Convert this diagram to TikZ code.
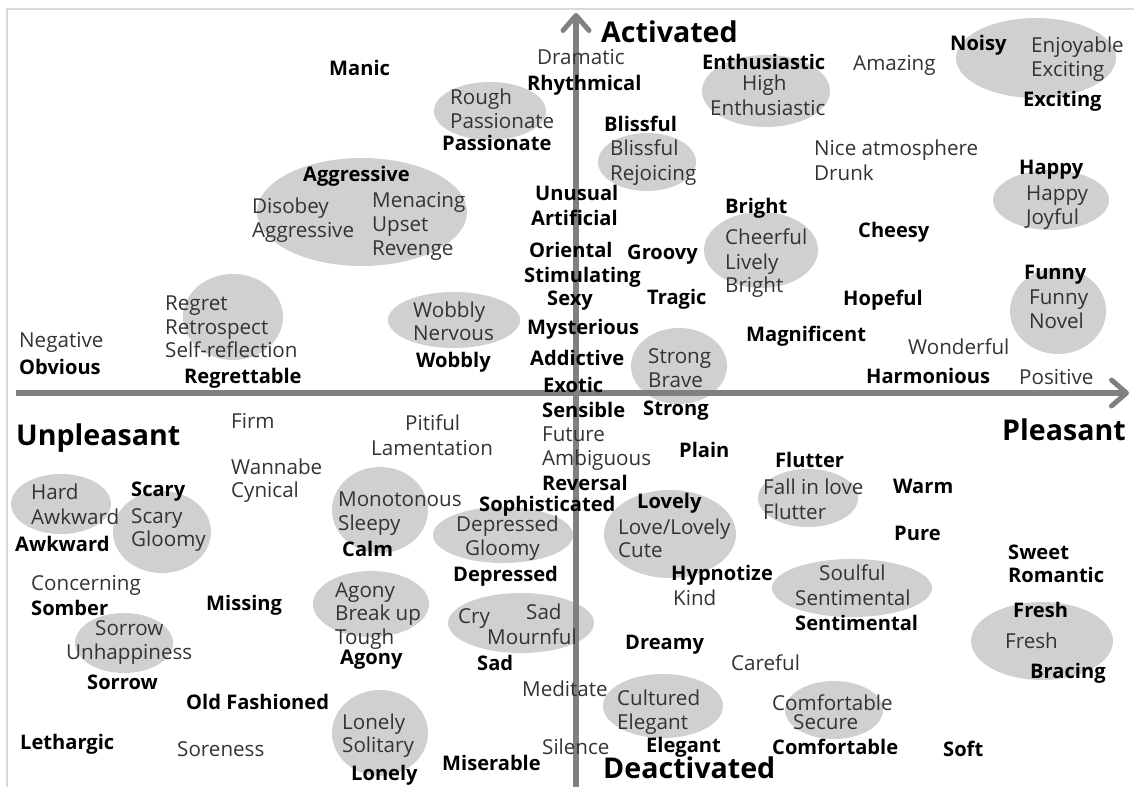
\documentclass[tikz,border=0pt]{standalone}
\usepackage{fontspec}
\setmainfont{Open Sans}
\usetikzlibrary{arrows.meta}
\definecolor{axisgray}{HTML}{808080}
\definecolor{blobgray}{HTML}{D0D0D0}
\definecolor{framegray}{HTML}{D9D9D9}
\definecolor{wordgray}{HTML}{333333}
\begin{document}
\begin{tikzpicture}[x=1pt,y=-1pt,
  word/.style={anchor=base west, inner sep=0pt, yshift=-7pt, text=wordgray, font=\fontsize{20.6}{24}\selectfont},
  key/.style={anchor=base west, inner sep=0pt, yshift=-7pt, text=black, font=\fontsize{20.1}{23}\selectfont\bfseries},
  pole/.style={anchor=base west, inner sep=0pt, yshift=-10pt, text=black, font=\fontsize{28.6}{32}\selectfont\bfseries},
  blob/.style={fill=blobgray},
  axisline/.style={draw=axisgray, line width=6pt, -{Straight Barb[length=15pt,width=26pt,line width=5pt,round]}},
]
\useasboundingbox (0,0) rectangle (1134,787);

% frame
\coordinate (fbl) at (7,787);
\coordinate (ftl) at (7,9);
\coordinate (ftr) at (1134,9);
\draw[framegray, line width=2pt] (fbl) -- (ftl) -- (ftr);

% grouping ellipses
\fill[blob] (362,212) ellipse [x radius=105pt, y radius=54pt];
\fill[blob] (233,317) ellipse [x radius=50pt, y radius=43pt];
\fill[blob] (490,111) ellipse [x radius=56pt, y radius=29pt];
\fill[blob] (647,162) ellipse [x radius=49pt, y radius=29pt];
\fill[blob] (766,91) ellipse [x radius=64pt, y radius=36pt];
\fill[blob] (1036,58) ellipse [x radius=80pt, y radius=40pt];
\fill[blob] (1051,200) ellipse [x radius=58pt, y radius=30pt];
\fill[blob] (1058,311) ellipse [x radius=48pt, y radius=43pt];
\fill[blob] (761,250) ellipse [x radius=57pt, y radius=38pt];
\fill[blob] (454,320) ellipse [x radius=66pt, y radius=28pt];
\fill[blob] (679,366) ellipse [x radius=48pt, y radius=38pt];
\fill[blob] (61,504) ellipse [x radius=50pt, y radius=30pt];
\fill[blob] (162,532) ellipse [x radius=49pt, y radius=41pt];
\fill[blob] (380,510) ellipse [x radius=48pt, y radius=43pt];
\fill[blob] (371,604) ellipse [x radius=58pt, y radius=33pt];
\fill[blob] (124,643) ellipse [x radius=49pt, y radius=30pt];
\fill[blob] (380,733) ellipse [x radius=48pt, y radius=43pt];
\fill[blob] (503,535) ellipse [x radius=70pt, y radius=28pt];
\fill[blob] (521,623) ellipse [x radius=73pt, y radius=30pt];
\fill[blob] (670,534) ellipse [x radius=66pt, y radius=44pt];
\fill[blob] (663,706) ellipse [x radius=60pt, y radius=32pt];
\fill[blob] (808,498) ellipse [x radius=50pt, y radius=29pt];
\fill[blob] (852,588) ellipse [x radius=80pt, y radius=29pt];
\fill[blob] (1042,641) ellipse [x radius=71pt, y radius=39pt];
\fill[blob] (834,710) ellipse [x radius=49pt, y radius=29pt];

% axes
\coordinate (xs) at (16,393);
\coordinate (xe) at (1129,393);
\coordinate (ys) at (576,787);
\coordinate (ye) at (576,13);
\draw[axisline] (xs) -- (xe);
\draw[axisline] (ys) -- (ye);

% activated / unpleasant quadrant
\node[key] (manic) at (329,68) {Manic};
\node[key] (aggrK) at (303,174) {Aggressive};
\node[word] (disobey) at (252,206) {Disobey};
\node[word] (aggrW) at (252,230) {Aggressive};
\node[word] (menacing) at (372,200) {Menacing};
\node[word] (upset) at (372,224) {Upset};
\node[word] (revenge) at (372,248) {Revenge};
\node[word] (regret) at (165,303) {Regret};
\node[word] (retro) at (165,327) {Retrospect};
\node[word] (selfref) at (165,350) {Self-reflection};
\node[word] (negative) at (19,340) {Negative};
\node[key] (obvious) at (19,367) {Obvious};
\node[key] (regrettable) at (184,376) {Regrettable};
\node[word] (rough) at (450,97) {Rough};
\node[word] (passW) at (450,121) {Passionate};
\node[key] (passK) at (442,143) {Passionate};
\node[word] (wobW) at (413,310) {Wobbly};
\node[word] (nervous) at (413,333) {Nervous};
\node[key] (wobK) at (416,360) {Wobbly};

% along the vertical axis, top half
\node[pole] (activated) at (601,32) {Activated};
\node[word] (dramatic) at (537,57) {Dramatic};
\node[key] (rhythm) at (527,83) {Rhythmical};
\node[key] (unusual) at (535,193) {Unusual};
\node[key] (artificial) at (531,218) {Artificial};
\node[key] (oriental) at (529,250) {Oriental};
\node[key] (stim) at (524,275) {Stimulating};
\node[key] (sexy) at (547,298) {Sexy};
\node[key] (myst) at (527,327) {Mysterious};
\node[key] (addict) at (530,358) {Addictive};
\node[key] (exotic) at (543,385) {Exotic};

% activated / pleasant quadrant
\node[key] (blissK) at (604,124) {Blissful};
\node[word] (blissW) at (610,148) {Blissful};
\node[word] (rejoice) at (610,173) {Rejoicing};
\node[key] (groovy) at (627,252) {Groovy};
\node[key] (tragic) at (647,297) {Tragic};
\node[word] (strongW) at (648,356) {Strong};
\node[word] (brave) at (648,380) {Brave};
\node[key] (enthK) at (702,62) {Enthusiastic};
\node[word] (high) at (742,83) {High};
\node[word] (enthW) at (710,108) {Enthusiastic};
\node[word] (amazing) at (853,63) {Amazing};
\node[key] (noisy) at (950,43) {Noisy};
\node[word] (enjoy) at (1031,45) {Enjoyable};
\node[word] (excW) at (1031,69) {Exciting};
\node[key] (excK) at (1023,99) {Exciting};
\node[word] (nice) at (814,148) {Nice atmosphere};
\node[word] (drunk) at (814,173) {Drunk};
\node[key] (happyK) at (1019,167) {Happy};
\node[word] (happyW) at (1026,193) {Happy};
\node[word] (joyful) at (1026,217) {Joyful};
\node[key] (brightK) at (725,206) {Bright};
\node[word] (cheerful) at (725,237) {Cheerful};
\node[word] (lively) at (725,262) {Lively};
\node[word] (brightW) at (725,285) {Bright};
\node[key] (cheesy) at (858,230) {Cheesy};
\node[key] (funnyK) at (1024,272) {Funny};
\node[word] (funnyW) at (1029,297) {Funny};
\node[word] (novel) at (1029,321) {Novel};
\node[key] (hopeful) at (843,298) {Hopeful};
\node[key] (magnif) at (746,334) {Magnificent};
\node[word] (wonderful) at (908,347) {Wonderful};
\node[key] (harmon) at (866,376) {Harmonious};
\node[word] (positive) at (1019,377) {Positive};

% deactivated / unpleasant quadrant
\node[pole] (unpleasant) at (16,435) {Unpleasant};
\node[word] (firm) at (231,421) {Firm};
\node[word] (wannabe) at (231,467) {Wannabe};
\node[word] (cynical) at (231,490) {Cynical};
\node[word] (hard) at (31,492) {Hard};
\node[word] (awkW) at (31,517) {Awkward};
\node[key] (scaryK) at (131,489) {Scary};
\node[word] (scaryW) at (131,516) {Scary};
\node[word] (gloomyA) at (131,539) {Gloomy};
\node[key] (awkK) at (15,544) {Awkward};
\node[word] (monot) at (338,499) {Monotonous};
\node[word] (sleepy) at (338,523) {Sleepy};
\node[key] (calm) at (342,549) {Calm};
\node[word] (concern) at (31,583) {Concerning};
\node[key] (somber) at (31,608) {Somber};
\node[key] (missing) at (206,603) {Missing};
\node[word] (agonyW) at (335,590) {Agony};
\node[word] (breakup) at (335,613) {Break up};
\node[word] (tough) at (335,637) {Tough};
\node[key] (agonyK) at (340,657) {Agony};
\node[word] (sorrowW) at (95,628) {Sorrow};
\node[word] (unhappy) at (66,652) {Unhappiness};
\node[key] (sorrowK) at (87,682) {Sorrow};
\node[key] (oldfash) at (186,702) {Old Fashioned};
\node[word] (lonelyW) at (342,722) {Lonely};
\node[word] (solitary) at (342,745) {Solitary};
\node[key] (lonelyK) at (351,773) {Lonely};
\node[key] (lethargic) at (20,742) {Lethargic};
\node[word] (soreness) at (177,749) {Soreness};
\node[word] (pitiful) at (405,423) {Pitiful};
\node[word] (lament) at (371,448) {Lamentation};
\node[key] (sophis) at (479,504) {Sophisticated};
\node[word] (deprW) at (456,524) {Depressed};
\node[word] (gloomyB) at (465,548) {Gloomy};
\node[key] (deprK) at (453,574) {Depressed};
\node[word] (cry) at (458,616) {Cry};
\node[word] (sadW) at (526,612) {Sad};
\node[word] (mournful) at (487,637) {Mournful};
\node[key] (sadK) at (477,663) {Sad};
\node[word] (meditate) at (522,689) {Meditate};
\node[key] (miserable) at (442,763) {Miserable};

% along the vertical axis, bottom half
\node[key] (sensible) at (542,410) {Sensible};
\node[word] (future) at (542,434) {Future};
\node[word] (ambig) at (542,458) {Ambiguous};
\node[key] (reversal) at (542,483) {Reversal};
\node[word] (silence) at (542,747) {Silence};
\node[pole] (deactivated) at (603,768) {Deactivated};

% deactivated / pleasant quadrant
\node[key] (strongK) at (643,408) {Strong};
\node[key] (plain) at (679,450) {Plain};
\node[key] (lovelyK) at (637,501) {Lovely};
\node[word] (lovelyW) at (618,527) {Love/Lovely};
\node[word] (cute) at (618,550) {Cute};
\node[key] (hypno) at (671,573) {Hypnotize};
\node[word] (kind) at (673,598) {Kind};
\node[key] (dreamy) at (625,642) {Dreamy};
\node[word] (careful) at (731,663) {Careful};
\node[word] (cultured) at (617,698) {Cultured};
\node[word] (elegW) at (617,722) {Elegant};
\node[key] (elegK) at (646,745) {Elegant};
\node[pole] (pleasant) at (1002,430) {Pleasant};
\node[key] (flutterK) at (775,460) {Flutter};
\node[word] (fallinlove) at (763,487) {Fall in love};
\node[word] (flutterW) at (763,512) {Flutter};
\node[key] (warm) at (893,486) {Warm};
\node[key] (pure) at (894,533) {Pure};
\node[key] (sweet) at (1008,552) {Sweet};
\node[key] (romantic) at (1008,575) {Romantic};
\node[word] (soulful) at (819,573) {Soulful};
\node[word] (sentW) at (795,598) {Sentimental};
\node[key] (sentK) at (795,623) {Sentimental};
\node[key] (freshK) at (1013,610) {Fresh};
\node[word] (freshW) at (1005,641) {Fresh};
\node[key] (bracing) at (1030,671) {Bracing};
\node[word] (comfW) at (772,703) {Comfortable};
\node[word] (secure) at (793,722) {Secure};
\node[key] (comfK) at (772,747) {Comfortable};
\node[key] (soft) at (943,749) {Soft};
\end{tikzpicture}
\end{document}
